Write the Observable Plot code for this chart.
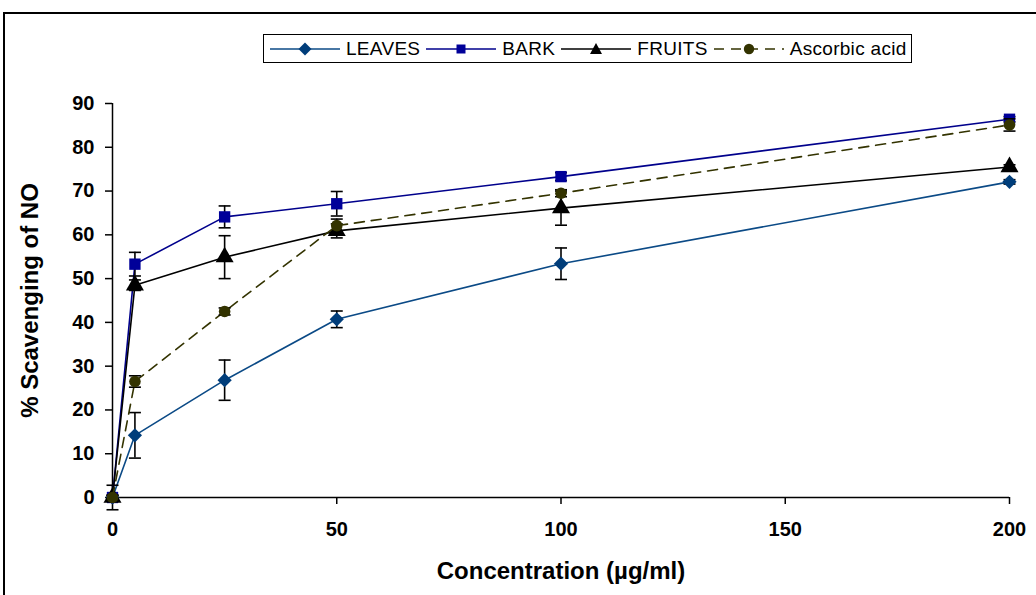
<!DOCTYPE html>
<html>
<head>
<meta charset="utf-8">
<script src="https://cdn.jsdelivr.net/npm/d3@7"></script>
<script src="https://cdn.jsdelivr.net/npm/@observablehq/plot@0.6"></script>
<style>
  html, body { margin: 0; padding: 0; background: #fff; overflow: hidden; }
  #wrap { position: relative; width: 1036px; height: 595px; font-family: "Liberation Sans", Arial, sans-serif; }
  #frame { position: absolute; left: 3px; top: 12px; width: 1100px; height: 700px; border: 2px solid #000; box-sizing: border-box; pointer-events: none; }
  #legend { position: absolute; left: 263px; top: 34px; width: 649px; height: 29px; border: 1.5px solid #000; box-sizing: border-box;
            display: flex; align-items: center; padding-left: 6px; font-size: 19px; letter-spacing: 0.3px; background: #fff; white-space: nowrap; }
  #legend .item { display: flex; align-items: center; margin-right: 6px; }
  #legend svg { margin-right: 6px; }
  #chart { position: absolute; left: 0; top: 0; }
</style>
</head>
<body>
<div id="wrap">
  <div id="chart"></div>
  <div id="frame"></div>
  <div id="legend"></div>
</div>
<script>
// ---- data ----
const concentrations = [0, 5, 25, 50, 100, 200];
const seriesNames = ["LEAVES", "BARK", "FRUITS", "Ascorbic acid"];
const leavesValues = [0, 14.2, 26.8, 40.7, 53.4, 72.1];
const leavesErrors = [2.8, 5.2, 4.6, 1.9, 3.6, 0.5];
const barkValues = [0, 53.3, 64.1, 67.1, 73.3, 86.4];
const barkErrors = [0.5, 2.7, 2.5, 2.8, 0.9, 0.6];
const fruitsValues = [0, 48.5, 54.9, 60.9, 66.1, 75.5];
const fruitsErrors = [0.5, 1.2, 4.9, 1.6, 3.9, 0.5];
const ascorbicValues = [0, 26.5, 42.5, 62.1, 69.5, 85.1];
const ascorbicErrors = [0.5, 1.3, 0.8, 1.5, 0.8, 1.4];
const xTicks = [0, 50, 100, 150, 200];
const yTicks = [0, 10, 20, 30, 40, 50, 60, 70, 80, 90];

// ---- styles ----
const styles = {
  "LEAVES": {line: "#0B4A86", fill: "#003D7A", symbol: "diamond2", r: 6.4, dash: null},
  "BARK": {line: "#00008C", fill: "#000099", symbol: "square", r: 6.4, dash: null},
  "FRUITS": {line: "#000000", fill: "#000000", symbol: "triangle", r: 6.7, dash: null},
  "Ascorbic acid": {line: "#333300", fill: "#333300", symbol: "circle", r: 5.8, dash: "10,7"}
};

const valueSets = [leavesValues, barkValues, fruitsValues, ascorbicValues];
const errorSets = [leavesErrors, barkErrors, fruitsErrors, ascorbicErrors];
const rows = [];
seriesNames.forEach((s, i) => {
  concentrations.forEach((c, j) => {
    rows.push({series: s, conc: c, value: valueSets[i][j], err: errorSets[i][j]});
  });
});

const capSymbol = {
  draw(context, size) {
    const w = Math.sqrt(size / Math.PI);
    context.moveTo(-w, 0);
    context.lineTo(w, 0);
  }
};

const marks = [
  Plot.axisY({ticks: yTicks, tickSize: 7, tickPadding: 11, fontSize: 20, fontWeight: "bold", label: null, stroke: "#000", strokeWidth: 1.5}),
  Plot.axisX({ticks: xTicks, tickSize: 7, tickPadding: 17, fontSize: 20, fontWeight: "bold", label: null, stroke: "#000", strokeWidth: 1.5}),
  Plot.ruleX([0], {y1: 0, y2: 90, stroke: "#000", strokeWidth: 1.5}),
  Plot.ruleY([0], {x1: 0, x2: 200, stroke: "#000", strokeWidth: 1.5}),
  Plot.text(["% Scavenging of NO"], {frameAnchor: "left", textAnchor: "middle", rotate: -90, dx: -82, fontSize: 24, fontWeight: "bold", fill: "#000"}),
  Plot.text(["Concentration (µg/ml)"], {frameAnchor: "bottom", textAnchor: "middle", dy: 81, fontSize: 24, fontWeight: "bold", fill: "#000"})
];

seriesNames.forEach(s => {
  const st = styles[s];
  const data = rows.filter(d => d.series === s);
  marks.push(Plot.line(data, {x: "conc", y: "value", stroke: st.line, strokeWidth: 1.6, strokeDasharray: st.dash || undefined}));
  marks.push(Plot.ruleX(data, {x: "conc", y1: d => d.value - d.err, y2: d => d.value + d.err, stroke: "#000", strokeWidth: 1.6}));
  marks.push(Plot.dot(data, {x: "conc", y: d => d.value + d.err, symbol: capSymbol, r: 6, fill: "none", stroke: "#000", strokeWidth: 1.6}));
  marks.push(Plot.dot(data, {x: "conc", y: d => d.value - d.err, symbol: capSymbol, r: 6, fill: "none", stroke: "#000", strokeWidth: 1.6}));
  marks.push(Plot.dot(data, {x: "conc", y: "value", symbol: st.symbol, r: st.r, fill: st.fill, stroke: "none"}));
});

const chart = Plot.plot({
  width: 1036,
  height: 595,
  marginLeft: 112,
  marginRight: 27,
  marginTop: 103,
  marginBottom: 98,
  x: {type: "linear", domain: [0, 200]},
  y: {type: "linear", domain: [0, 90]},
  style: {fontFamily: "'Liberation Sans', Arial, sans-serif", background: "transparent", color: "#000", overflow: "visible"},
  marks
});
document.getElementById("chart").appendChild(chart);

// ---- legend ----
const legend = document.getElementById("legend");
const symPaths = {
  "diamond2": "M35,8.5 L41.5,15 L35,21.5 L28.5,15 Z",
  "square": "M30.5,10.5 H39.5 V19.5 H30.5 Z",
  "triangle": "M35,9 L41,20 L29,20 Z",
  "circle": null
};
seriesNames.forEach(s => {
  const st = styles[s];
  const item = document.createElement("div");
  item.className = "item";
  const sym = st.symbol === "circle"
    ? `<circle cx="35" cy="15" r="5.2" fill="${st.fill}"/>`
    : `<path d="${symPaths[st.symbol]}" fill="${st.fill}"/>`;
  item.innerHTML = `<svg width="70" height="30" viewBox="0 0 70 30">
      <line x1="0" y1="15" x2="70" y2="15" stroke="${st.line}" stroke-width="1.6" ${st.dash ? `stroke-dasharray="10,7"` : ""}/>
      ${sym}</svg><span>${s}</span>`;
  legend.appendChild(item);
});
</script>
</body>
</html>
